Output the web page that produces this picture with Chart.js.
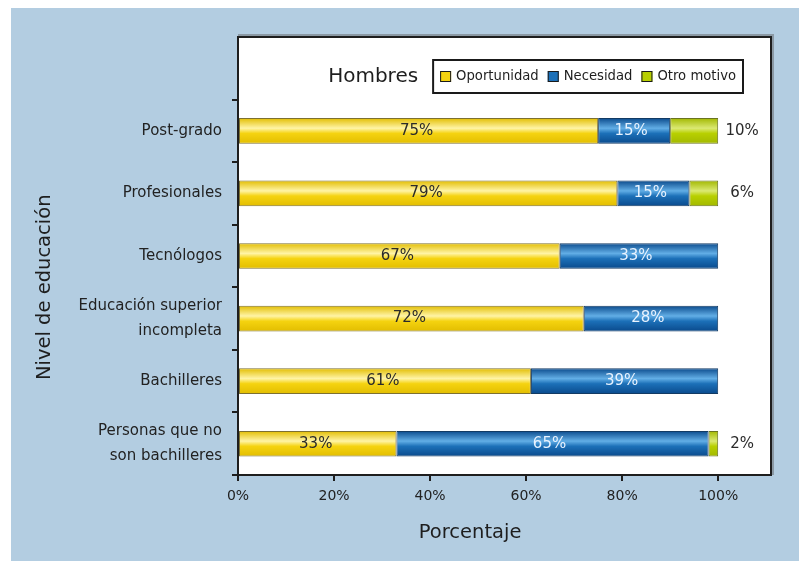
<!DOCTYPE html>
<html>
<head>
<meta charset="utf-8">
<script src="https://cdn.jsdelivr.net/npm/chart.js@4"></script>
<style>
	html, body { margin: 0; padding: 0; background: #fff; }
	#wrap { position: absolute; left: 11px; top: 8px; width: 788px; height: 553px; background: #b3cde1; }
	canvas { display: block; }
</style>
</head>
<body>
<div id="wrap"><canvas id="chart" width="788" height="553"></canvas></div>
<script>
const categories = ['', 'Post-grado', 'Profesionales', 'Tecnólogos', ['Educación superior', 'incompleta'], 'Bachilleres', ['Personas que no', 'son bachilleres']];
const oportunidad = [null, 75, 79, 67, 72, 61, 33];
const necesidad = [null, 15, 15, 33, 28, 39, 65];
const otroMotivo = [null, 10, 6, 0, 0, 0, 2];
const seriesNames = ['Oportunidad', 'Necesidad', 'Otro motivo'];
const xTickValues = [0, 20, 40, 60, 80, 100];
const legendTitle = 'Hombres';
const xTitle = 'Porcentaje';
const yTitle = 'Nivel de educación';

const FONT = "'DejaVu Sans', sans-serif";
const BAR_PCT = 0.41;

// vertical shine on each bar, built from the y scale band
function shine(base, dark, light) {
	return function(c) {
		const chart = c.chart;
		const y = chart.scales.y;
		if (!chart.chartArea || !y || c.type !== 'data') return base;
		const mid = y.getPixelForValue(c.dataIndex);
		const half = (y.getPixelForValue(1) - y.getPixelForValue(0)) * BAR_PCT / 2;
		const g = chart.ctx.createLinearGradient(0, mid - half, 0, mid + half);
		g.addColorStop(0, dark);
		g.addColorStop(0.4, light);
		g.addColorStop(0.6, base);
		g.addColorStop(1, dark);
		return g;
	};
}

const colors = [
	{ base: '#f5d310', dark: '#e2bd00', light: '#fff4a6', border: '#7d7030', text: '#2a2a2a' },
	{ base: '#1c70b8', dark: '#0a4a8c', light: '#62aee6', border: '#123a63', text: '#e8f3ff' },
	{ base: '#b8d000', dark: '#a2b800', light: '#dbe973', border: '#6a7320', text: '#2a2a2a' }
];

const frame = {
	id: 'frame',
	beforeDraw(chart) {
		const { ctx, chartArea: a } = chart;
		ctx.save();
		ctx.fillStyle = '#ffffff';
		ctx.fillRect(a.left, a.top, a.right - a.left, a.bottom - a.top);
		ctx.restore();
	},
	afterDraw(chart) {
		const { ctx, chartArea: a } = chart;
		ctx.save();
		ctx.strokeStyle = 'rgba(90,90,90,0.45)';
		ctx.lineWidth = 2;
		ctx.beginPath();
		ctx.moveTo(a.left, a.top - 2);
		ctx.lineTo(a.right + 2, a.top - 2);
		ctx.lineTo(a.right + 2, a.bottom);
		ctx.stroke();
		ctx.strokeStyle = '#1e1e1e';
		ctx.lineWidth = 2;
		ctx.beginPath();
		ctx.moveTo(a.left, a.top);
		ctx.lineTo(a.right, a.top);
		ctx.lineTo(a.right, a.bottom);
		ctx.stroke();
		ctx.restore();
	}
};

const barLabels = {
	id: 'barLabels',
	afterDatasetsDraw(chart) {
		const ctx = chart.ctx;
		const x = chart.scales.x;
		ctx.save();
		ctx.font = '15px ' + FONT;
		ctx.textAlign = 'center';
		ctx.textBaseline = 'middle';
		chart.data.datasets.forEach((ds, di) => {
			chart.getDatasetMeta(di).data.forEach((bar, i) => {
				const v = ds.data[i];
				if (!v) return;
				if (di === 2) {
					ctx.fillStyle = '#2a2a2a';
					ctx.fillText(v + '%', x.getPixelForValue(100) + 24, bar.y);
				} else {
					ctx.fillStyle = colors[di].text;
					ctx.fillText(v + '%', (bar.x + bar.base) / 2 - (di === 1 ? 3 : 2), bar.y);
				}
			});
		});
		ctx.restore();
	}
};

const legendBox = {
	id: 'legendBox',
	afterDraw(chart) {
		const { ctx, chartArea: a } = chart;
		ctx.save();
		ctx.font = '13.2px ' + FONT;
		ctx.textBaseline = 'middle';
		const sq = 11, gap = 5, itemGap = 9, pad = 7;
		let w = pad;
		seriesNames.forEach((n, i) => {
			w += sq + gap + ctx.measureText(n).width + (i < seriesNames.length - 1 ? itemGap : 0);
		});
		w += pad;
		const h = 33;
		const right = a.right - 28;
		const left = right - w;
		const top = a.top + 23;
		const mid = top + h / 2;
		ctx.strokeStyle = '#1a1a1a';
		ctx.lineWidth = 2;
		ctx.strokeRect(left, top, w, h);
		let cx = left + pad;
		seriesNames.forEach((n, i) => {
			ctx.fillStyle = colors[i].base;
			ctx.fillRect(cx, mid - sq / 2, sq, sq);
			ctx.lineWidth = 1;
			ctx.strokeStyle = '#1a1a1a';
			ctx.strokeRect(cx + 0.5, mid - sq / 2 + 0.5, sq - 1, sq - 1);
			cx += sq + gap;
			ctx.fillStyle = '#1e1e1e';
			ctx.textAlign = 'left';
			ctx.fillText(n, cx, mid);
			cx += ctx.measureText(n).width + itemGap;
		});
		ctx.font = '20px ' + FONT;
		ctx.textAlign = 'right';
		ctx.fillStyle = '#1e1e1e';
		ctx.fillText(legendTitle, left - 15, mid);
		ctx.restore();
	}
};

const axisTitles = {
	id: 'axisTitles',
	afterDraw(chart) {
		const ctx = chart.ctx;
		const x = chart.scales.x;
		const y = chart.scales.y;
		ctx.save();
		ctx.font = '19.5px ' + FONT;
		ctx.fillStyle = '#1e1e1e';
		ctx.textAlign = 'center';
		ctx.textBaseline = 'middle';
		ctx.fillText(xTitle, (x.getPixelForValue(0) + x.getPixelForValue(100)) / 2 - 8, x.bottom - 28);
		ctx.translate(34, (y.getPixelForValue(1) + y.getPixelForValue(categories.length - 1)) / 2);
		ctx.rotate(-Math.PI / 2);
		ctx.fillText(yTitle, 0, 0);
		ctx.restore();
	}
};

const series = [oportunidad, necesidad, otroMotivo];

new Chart(document.getElementById('chart'), {
	type: 'bar',
	data: {
		labels: categories,
		datasets: series.map((d, i) => ({
			label: seriesNames[i],
			data: d,
			backgroundColor: shine(colors[i].base, colors[i].dark, colors[i].light),
			borderColor: colors[i].border,
			borderWidth: 1,
			borderSkipped: false,
			barPercentage: BAR_PCT,
			categoryPercentage: 1
		}))
	},
	options: {
		indexAxis: 'y',
		responsive: false,
		animation: false,
		layout: { padding: { left: 0, top: 29, right: 28, bottom: 0 } },
		scales: {
			x: {
				stacked: true,
				min: 0,
				max: 111,
				afterBuildTicks: function(scale) {
					scale.ticks = xTickValues.map(v => ({ value: v }));
				},
				afterFit: function(scale) { scale.height = 86; },
				border: { color: '#1e1e1e', width: 2 },
				grid: { drawOnChartArea: false, color: '#1e1e1e', lineWidth: 2, tickLength: 6 },
				ticks: {
					padding: 7,
					color: '#222',
					font: { family: FONT, size: 14 },
					callback: v => v + '%'
				}
			},
			y: {
				stacked: true,
				afterFit: function(scale) {
					scale.width = 227;
					scale.paddingTop = 0;
					scale.paddingBottom = 0;
				},
				border: { color: '#1e1e1e', width: 2 },
				grid: {
					drawOnChartArea: false,
					color: c => c.index === 0 ? 'rgba(0,0,0,0)' : '#1e1e1e',
					lineWidth: 2,
					tickLength: 6
				},
				ticks: {
					padding: 10,
					color: '#222',
					font: { family: FONT, size: 15, lineHeight: 1.65 }
				}
			}
		},
		plugins: {
			legend: { display: false },
			tooltip: { enabled: false }
		}
	},
	plugins: [frame, barLabels, legendBox, axisTitles]
});
</script>
</body>
</html>
